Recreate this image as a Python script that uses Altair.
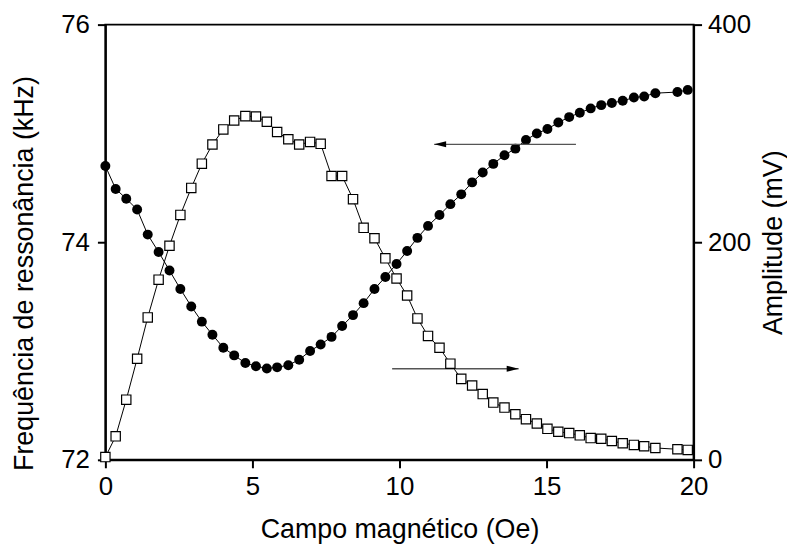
import altair as alt
import pandas as pd

# Magnetic field (Oe), shared by both series
campo = [0.0, 0.35, 0.71, 1.08, 1.44, 1.81, 2.18, 2.55, 2.92, 3.28, 3.64, 4.01,
         4.38, 4.76, 5.12, 5.49, 5.84, 6.22, 6.59, 6.96, 7.32, 7.69, 8.05, 8.42,
         8.78, 9.15, 9.52, 9.90, 10.26, 10.61, 10.97, 11.36, 11.73, 12.10, 12.47,
         12.83, 13.19, 13.57, 13.94, 14.30, 14.67, 15.03, 15.40, 15.77, 16.13,
         16.50, 16.86, 17.22, 17.59, 17.97, 18.32, 18.70, 19.45, 19.80]

# Resonance frequency (kHz) - filled circles, left axis
frequencia = [74.70, 74.49, 74.40, 74.30, 74.07, 73.91, 73.74, 73.57, 73.41,
              73.27, 73.15, 73.03, 72.96, 72.89, 72.86, 72.84, 72.85, 72.87,
              72.92, 73.00, 73.06, 73.13, 73.23, 73.33, 73.44, 73.57, 73.68,
              73.80, 73.92, 74.04, 74.15, 74.25, 74.35, 74.44, 74.55, 74.64,
              74.72, 74.80, 74.86, 74.94, 75.00, 75.04, 75.10, 75.15, 75.19,
              75.23, 75.26, 75.28, 75.30, 75.33, 75.34, 75.37, 75.38, 75.40]

# Amplitude (mV) - open squares, right axis
amplitude = [2.5, 21.6, 55.3, 92.9, 130.9, 165.6, 196.8, 225.1, 249.9, 272.2,
             289.8, 303.7, 311.9, 315.9, 315.6, 310.7, 301.3, 294.6, 289.8,
             292.2, 290.4, 260.9, 260.9, 239.6, 213.2, 203.7, 185.2, 166.7,
             151.0, 130.0, 113.9, 103.0, 88.4, 74.4, 68.3, 60.4, 52.6, 48.0,
             41.9, 37.4, 33.4, 28.5, 25.8, 24.6, 22.5, 20.0, 19.4, 17.3, 15.2,
             13.7, 12.5, 10.9, 9.7, 9.1]

# Annotation arrows: start, tip, level
seta_freq_inicio = [16.0]
seta_freq_ponta = [11.18]
seta_freq_nivel = [74.9]
seta_amp_inicio = [9.75]
seta_amp_ponta = [14.05]
seta_amp_nivel = [83.7]

x_ticks = [0, 5, 10, 15, 20]
freq_ticks = [72, 74, 76]
amp_ticks = [0, 200, 400]

FONT = "Liberation Sans"

df = pd.DataFrame({"campo": campo, "freq": frequencia, "amp": amplitude})
arr_f = pd.DataFrame({"campo": seta_freq_inicio, "campo2": seta_freq_ponta, "freq": seta_freq_nivel})
head_f = pd.DataFrame({"campo": seta_freq_ponta, "freq": seta_freq_nivel})
arr_a = pd.DataFrame({"campo": seta_amp_inicio, "campo2": seta_amp_ponta, "amp": seta_amp_nivel})
head_a = pd.DataFrame({"campo": seta_amp_ponta, "amp": seta_amp_nivel})


def xenc():
    return alt.X("campo:Q",
                 scale=alt.Scale(domain=[0, 20], nice=False, zero=False),
                 axis=alt.Axis(values=x_ticks, title="Campo magnético (Oe)",
                               titlePadding=17, labelPadding=6,
                               labelFlush=False))


def yfreq():
    return alt.Y("freq:Q",
                 scale=alt.Scale(domain=[72, 76], nice=False, zero=False),
                 axis=alt.Axis(orient="left", values=freq_ticks, format="d",
                               title="Frequência de ressonância (kHz)",
                               titleY=250,
                               titlePadding=22, labelPadding=8))


def yamp():
    return alt.Y("amp:Q",
                 scale=alt.Scale(domain=[0, 400], nice=False),
                 axis=alt.Axis(orient="right", values=amp_ticks, format="d",
                               title="Amplitude (mV)", titleAngle=270,
                               titleBaseline="top",
                               titlePadding=10, labelPadding=6))


freq_line = alt.Chart(df).mark_line(color="black", strokeWidth=1).encode(x=xenc(), y=yfreq())
freq_pts = alt.Chart(df).mark_point(shape="circle", filled=True, color="black",
                                     size=100, opacity=1).encode(x=xenc(), y=yfreq())
freq_arrow = alt.Chart(arr_f).mark_rule(color="#555555", strokeWidth=1.3).encode(
    x=xenc(), x2="campo2:Q", y=yfreq())
freq_head = alt.Chart(head_f).mark_point(shape="M0,0L2,-0.5L2,0.5Z", filled=True,
                                          color="black", size=144, opacity=1).encode(
    x=xenc(), y=yfreq())

amp_line = alt.Chart(df).mark_line(color="black", strokeWidth=1).encode(x=xenc(), y=yamp())
amp_pts = alt.Chart(df).mark_point(shape="square", filled=True, fill="white",
                                    stroke="black", strokeWidth=1.2, size=88,
                                    opacity=1).encode(x=xenc(), y=yamp())
amp_arrow = alt.Chart(arr_a).mark_rule(color="#555555", strokeWidth=1.3).encode(
    x=xenc(), x2="campo2:Q", y=yamp())
amp_head = alt.Chart(head_a).mark_point(shape="M0,0L-2,-0.5L-2,0.5Z", filled=True,
                                         color="black", size=144, opacity=1).encode(
    x=xenc(), y=yamp())

left = alt.layer(freq_line, freq_pts, freq_arrow, freq_head)
right = alt.layer(amp_line, amp_arrow, amp_head, amp_pts)

chart = alt.layer(left, right).resolve_scale(y="independent").properties(
    width=592, height=438,
    padding={"left": 3, "top": 2, "right": 0, "bottom": 2},
    background="white",
).configure_axis(
    domainColor="black", domainWidth=2, tickColor="black", tickWidth=2,
    tickSize=8, labelFont=FONT, labelFontSize=26, labelColor="black",
    titleFont=FONT, titleFontSize=27, titleFontWeight="normal",
    titleColor="black", grid=False,
).configure_view(stroke="black", strokeWidth=2)

chart.save("out.html", embed_options={"renderer": "svg", "actions": False})
